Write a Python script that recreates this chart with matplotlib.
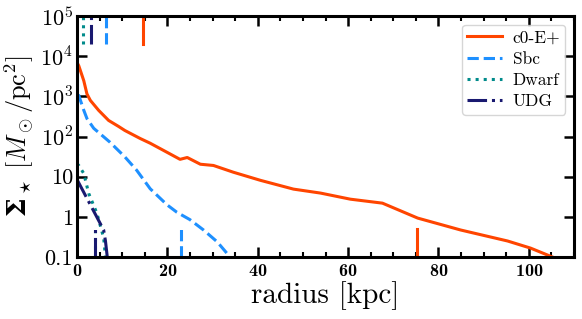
import matplotlib
matplotlib.use("Agg")
import matplotlib.pyplot as plt
import numpy as np

plt.rcParams['font.family'] = 'serif'
plt.rcParams['font.serif'] = ['cmr10']
plt.rcParams['mathtext.fontset'] = 'cm'
plt.rcParams['mathtext.rm'] = 'cmr10'
plt.rcParams['mathtext.it'] = 'cmmi10'
plt.rcParams['mathtext.bf'] = 'DejaVu Serif:bold'
plt.rcParams['mathtext.fallback'] = 'cm'
plt.rcParams['axes.unicode_minus'] = False
plt.rcParams['axes.formatter.use_mathtext'] = True

# ---- data ----
r_c0 = [0, 0.4, 1.5, 2.2, 2.95, 4.8, 7.0, 9.2, 10.6, 14.0, 16.2, 18.4, 20.0, 22.8, 24.4,
        27.3, 30.2, 34.6, 40.6, 47.9, 53.9, 60.5, 67.6, 75.4, 84.9, 95.3, 100.4, 105.2]
s_c0 = [7000, 5750, 2450, 1150, 794, 447, 251, 178, 141, 89, 68, 50, 40, 27, 30,
        20.4, 19, 12.9, 8.1, 4.9, 3.9, 2.75, 2.19, 0.93, 0.47, 0.25, 0.166, 0.1]

r_sbc = [0, 0.4, 1.5, 2.2, 3.7, 7.3, 10.6, 13.2, 16.2, 19.9, 22.1, 25.0, 28.0, 31.0, 33.2, 33.8]
s_sbc = [1100, 1050, 450, 280, 160, 72, 31, 14.5, 5.0, 2.0, 1.3, 0.85, 0.47, 0.24, 0.123, 0.1]

r_dwarf = [0, 0.4, 1.5, 2.6, 4.4, 5.9, 6.3]
s_dwarf = [21, 19, 12, 3.8, 1.23, 0.3, 0.1]

r_udg = [0, 3.0, 5.9, 6.3, 6.7]
s_udg = [8.5, 1.95, 0.47, 0.25, 0.1]

labels = ['c0-E+', 'Sbc', 'Dwarf', 'UDG']
colors = ['orangered', 'dodgerblue', 'darkcyan', 'midnightblue']
styles = ['-', '--', ':', '-.']

# characteristic radii marked at top and bottom of the panel
r_top = [14.5, 6.4, 1.3, 3.0]
r_bottom = [75.3, 23.0, 4.0, 4.05]

yticks = [0.1, 1, 10, 100, 1e3, 1e4, 1e5]
yticklabels = ['0.1', '1', '10', r'$10^2$', r'$10^3$', r'$10^4$', r'$10^5$']
xticks = [0, 20, 40, 60, 80, 100]

fig = plt.figure(figsize=(5.82, 3.19), dpi=100)
ax = fig.add_axes([0.1323, 0.1944, 0.8540, 0.7554])

series = [(r_c0, s_c0), (r_sbc, s_sbc), (r_dwarf, s_dwarf), (r_udg, s_udg)]
for (rr, ss), lab, c, ls in zip(series, labels, colors, styles):
    ax.plot(rr, ss, color=c, ls=ls, lw=2.2, label=lab)

for rt, rb, c, ls in zip(r_top, r_bottom, colors, styles):
    ax.axvline(rt, ymin=0.885, ymax=1.0, color=c, ls=ls, lw=2.2)
    ax.axvline(rb, ymin=0.0, ymax=0.115, color=c, ls=ls, lw=2.2)

ax.set_yscale('log')
ax.set_xlim(0, 110)
ax.set_ylim(0.1, 1e5)
ax.set_yticks(yticks)
ax.set_yticklabels(yticklabels)
ax.set_xticks(xticks)
ax.set_xticks(np.arange(0, 111, 5), minor=True)
ax.yaxis.set_minor_locator(matplotlib.ticker.NullLocator())

for s in ax.spines.values():
    s.set_linewidth(2.2)
ax.tick_params(which='both', direction='in', top=True, right=True)
ax.tick_params(which='major', length=7, width=1.8)
ax.tick_params(which='minor', length=3.5, width=1.5)
ax.tick_params(axis='x', labelsize=13, labelfontfamily='cmb10', pad=4)
ax.tick_params(axis='y', labelsize=16, pad=3)

ax.set_xlabel('radius [kpc]', fontsize=21, labelpad=2)
ax.set_ylabel(r'$\mathbf{\Sigma}_\star\ [M_\odot/\mathrm{pc}^2]$', fontsize=19,
              labelpad=3, math_fontfamily='custom')

ax.legend(loc='upper right', fontsize=12.5, handlelength=2.0, borderpad=0.3,
          handletextpad=0.6, labelspacing=0.35)

fig.savefig('out.png', dpi=100)
